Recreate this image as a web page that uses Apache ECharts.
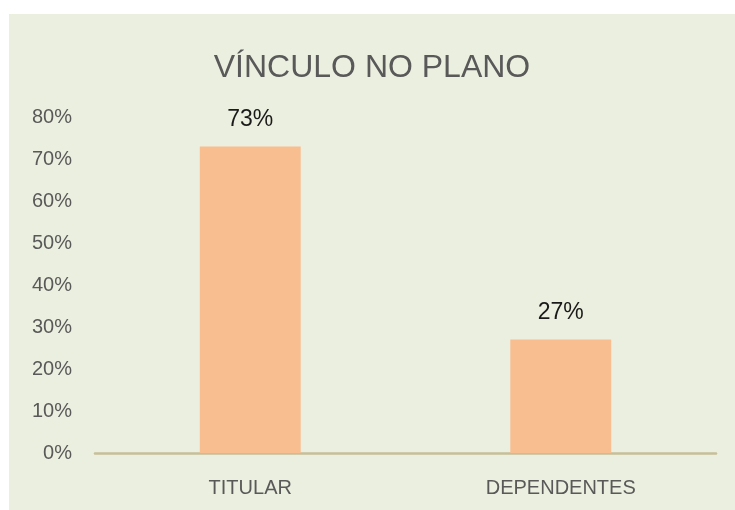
<!DOCTYPE html>
<html>
<head>
<meta charset="utf-8">
<script src="https://cdn.jsdelivr.net/npm/echarts@6/dist/echarts.min.js"></script>
<style>
    html, body {
        margin: 0;
        padding: 0;
        background: #ffffff;
    }
    #chart {
        position: absolute;
        left: 9px;
        top: 14px;
        width: 726px;
        height: 496px;
    }
</style>
</head>
<body>
<div id="chart"></div>
<script>
// dados
const categorias = ['TITULAR', 'DEPENDENTES'];
const valores = [73, 27];
const eixoY = { min: 0, max: 80, interval: 10 };

const chart = echarts.init(document.getElementById('chart'));

chart.setOption({
    backgroundColor: '#EBEFDF',
    animation: false,
    title: {
        text: 'VÍNCULO NO PLANO',
        left: 'center',
        top: 33,
        textStyle: {
            fontFamily: 'Liberation Sans',
            fontSize: 32,
            fontWeight: 'normal',
            color: '#595959'
        }
    },
    grid: {
        left: 86,
        right: 19,
        top: 103,
        bottom: 57
    },
    xAxis: {
        type: 'category',
        data: categorias,
        axisLine: {
            lineStyle: { color: '#C6BF98', width: 2.5 }
        },
        axisTick: { show: false },
        axisLabel: {
            margin: 25,
            fontFamily: 'Liberation Sans',
            fontSize: 20,
            color: '#595959'
        }
    },
    yAxis: {
        type: 'value',
        min: eixoY.min,
        max: eixoY.max,
        interval: eixoY.interval,
        axisLine: { show: false },
        axisTick: { show: false },
        splitLine: { show: false },
        axisLabel: {
            margin: 23,
            padding: [5, 0, 0, 0],
            fontFamily: 'Liberation Sans',
            fontSize: 20,
            color: '#595959',
            formatter: v => v + '%'
        }
    },
    series: [{
        type: 'bar',
        data: valores,
        barWidth: '32.5%',
        itemStyle: { color: '#F9BE8F' },
        label: {
            show: true,
            position: 'top',
            distance: 15,
            fontFamily: 'Liberation Sans',
            fontSize: 23,
            color: '#1a1a1a',
            formatter: p => p.value + '%'
        }
    }]
});
</script>
</body>
</html>
